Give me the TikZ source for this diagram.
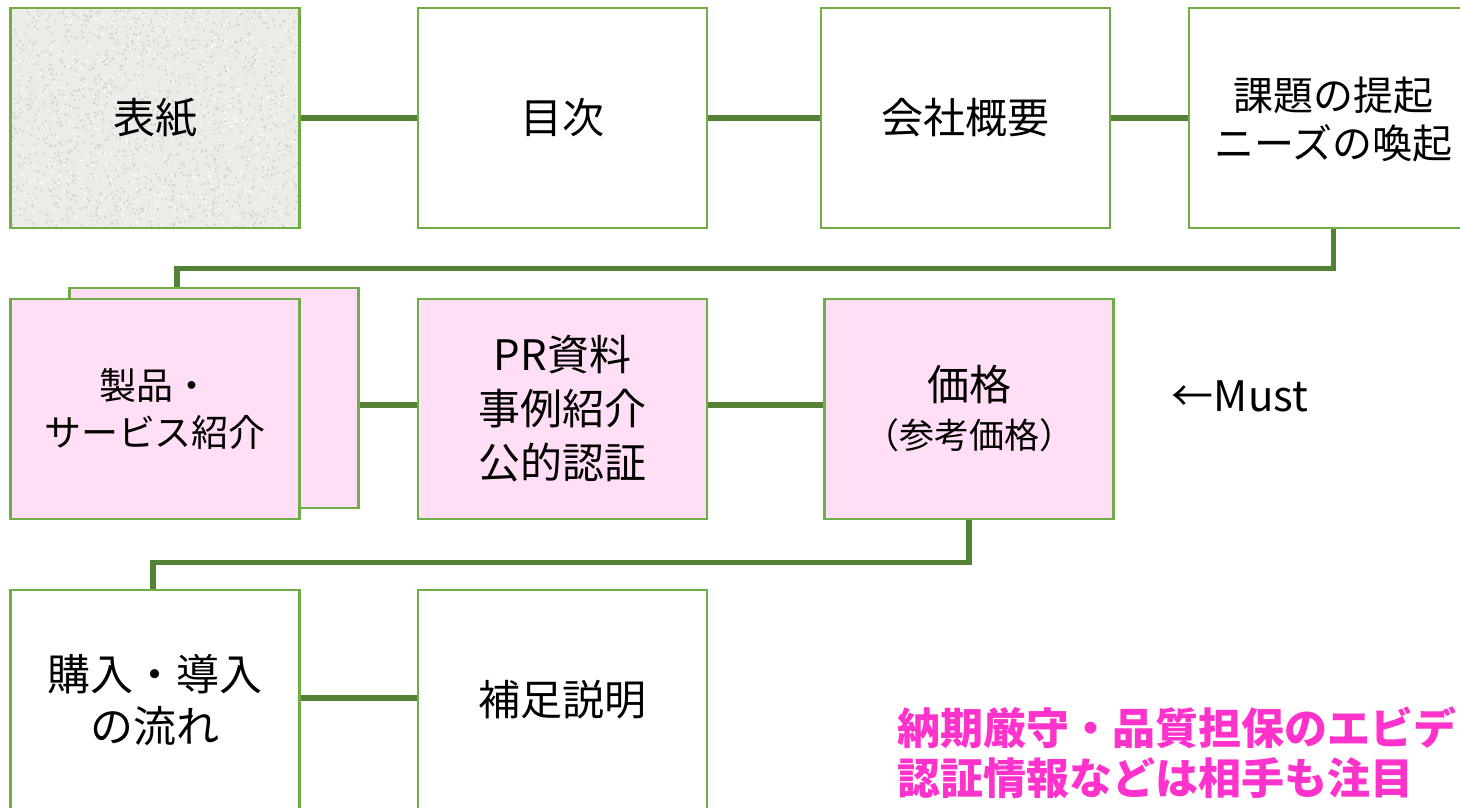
\documentclass[tikz,border=0pt]{standalone}
\usepackage{fontspec}
\setmainfont{Noto Sans CJK JP}
\definecolor{boxgreen}{HTML}{70AD47}
\definecolor{linkgreen}{HTML}{548235}
\definecolor{boxpink}{HTML}{FFDEF6}
\definecolor{notepink}{HTML}{FF33CC}
\definecolor{coverbg}{HTML}{EBEBE7}
\definecolor{speckdark}{HTML}{D2D2CD}
\begin{document}
\begin{tikzpicture}[x=1pt,y=-1pt,
  box/.style={draw=boxgreen,line width=2.5pt,minimum width=289pt,minimum height=220pt,
    inner sep=0pt,align=center,font=\fontsize{42}{50}\selectfont},
  pinkbox/.style={box,fill=boxpink},
  link/.style={draw=linkgreen,line width=5.5pt},
  note/.style={text=notepink,font=\fontsize{43}{50}\selectfont\bfseries,anchor=west,inner sep=0pt}]
\clip (0,0) rectangle (1460,808);
\fill[white] (0,0) rectangle (1460,808);
% cover texture
\fill[coverbg] (10,8) rectangle (300,228);
\pgfmathsetseed{7}
\foreach \i in {1,...,1400} {\fill[speckdark] ({12+286*rnd},{10+216*rnd}) circle (1.1pt);}
\foreach \i in {1,...,700} {\fill[white] ({12+286*rnd},{10+216*rnd}) circle (1.0pt);}
% row 1
\node[box] (cover) at (155,118) {表紙};
\node[box,fill=white] (toc) at (562.5,118) {目次};
\node[box,fill=white] (company) at (965.5,118) {会社概要};
\node[box,fill=white,font=\fontsize{40}{48}\selectfont] (issue) at (1333.5,118) {\\[-12pt]課題の提起\\ニーズの喚起};
% row 2
\node[pinkbox] (prodback) at (214,398) {};
\node[pinkbox,font=\fontsize{37}{47}\selectfont] (prod) at (155,409) {製品・\\サービス紹介};
\node[pinkbox,font=\fontsize{42}{54}\selectfont] (pr) at (562.5,409) {PR資料\\事例紹介\\公的認証};
\node[pinkbox] (price) at (969,409) {価格\\[-2pt]{\fontsize{35}{42}\selectfont （参考価格）}};
\node[font=\fontsize{42}{48}\selectfont,inner sep=0pt] (must) at (1240,396) {←Must};
% row 3
\node[box,fill=white,font=\fontsize{43}{52}\selectfont] (buy) at (155,700) {購入・導入\\の流れ};
\node[box,fill=white] (supp) at (562.5,700) {補足説明};
% connectors
\draw[link] (cover.east) -- (toc.west);
\draw[link] (toc.east) -- (company.west);
\draw[link] (company.east) -- (issue.west);
\draw[link] (issue.south) -- ++(0,39) -| ([xshift=-37pt]prodback.north);
\draw[link] ([yshift=-7pt]prodback.east) -- ([yshift=4pt]pr.west);
\draw[link] ([yshift=4pt]pr.east) -- ([yshift=4pt]price.west);
\draw[link] (price.south) -- ++(0,42) -| ([xshift=-2pt]buy.north);
\draw[link] ([yshift=2pt]buy.east) -- ([yshift=2pt]supp.west);
% note
\node[note] (note1) at (897,728) {納期厳守・品質担保のエビデンス、};
\node[note] (note2) at (897,778) {認証情報などは相手も注目};
\end{tikzpicture}
\end{document}
